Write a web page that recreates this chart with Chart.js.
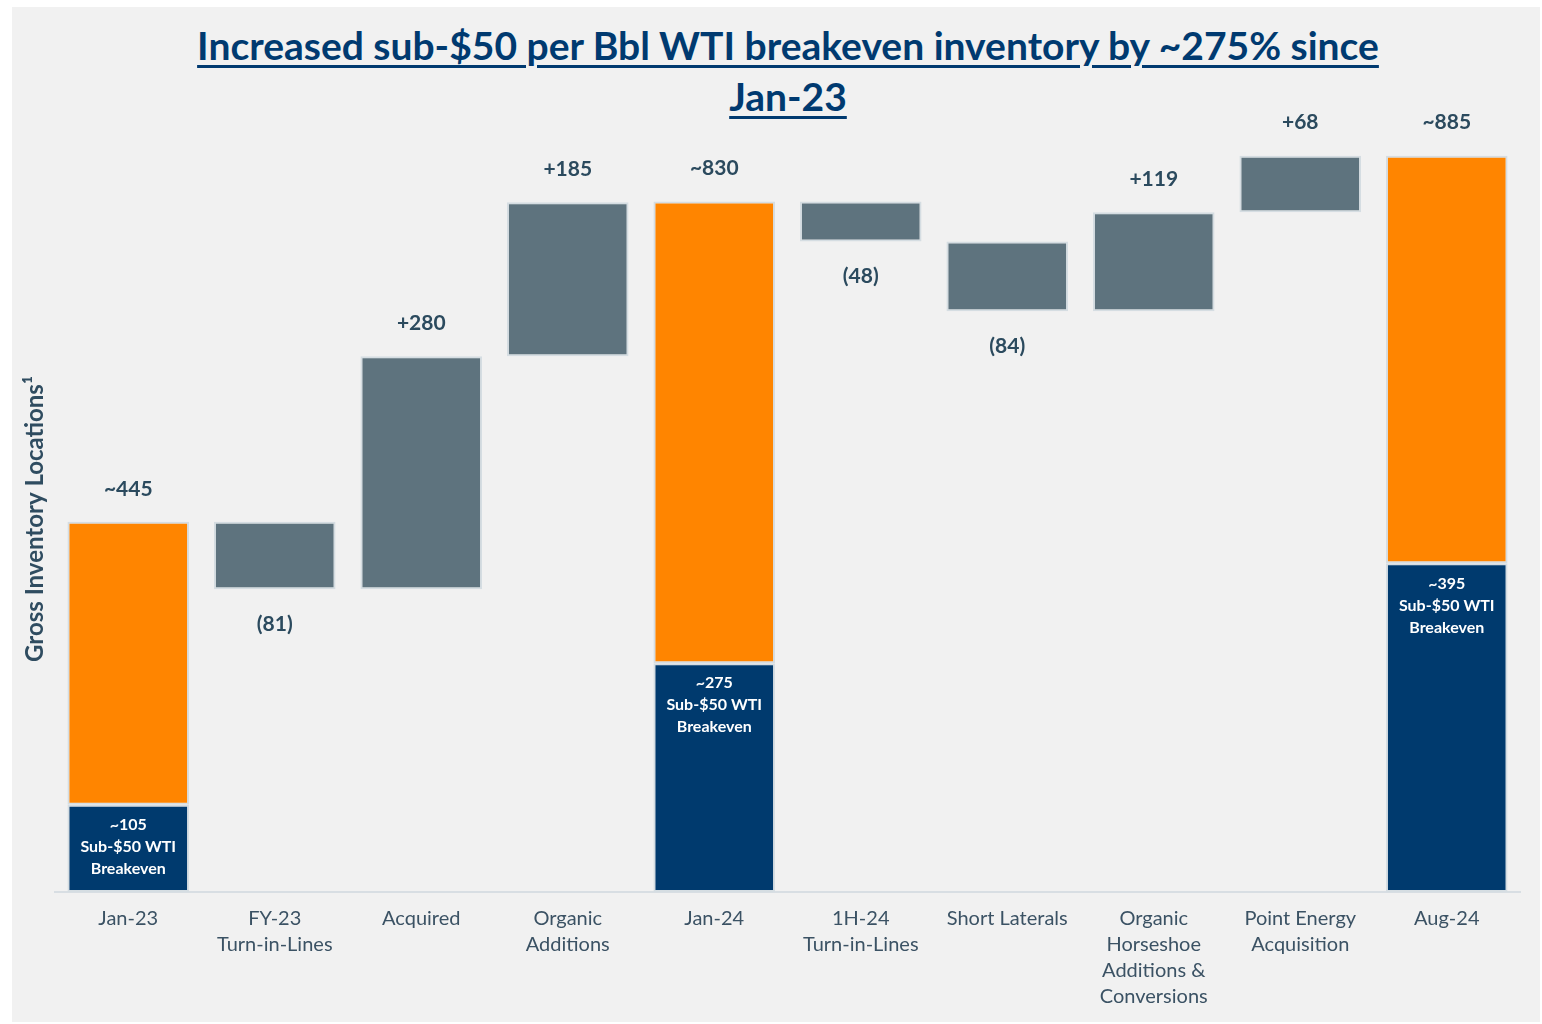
<!DOCTYPE html>
<html>
<head>
<meta charset="utf-8">
<script src="https://cdn.jsdelivr.net/npm/chart.js@4.4.1/dist/chart.umd.min.js"></script>
<style>
  html, body { margin: 0; padding: 0; background: #ffffff; }
  #panel { position: absolute; left: 12px; top: 7px; width: 1528px; height: 1015px; background: #f1f1f1; }
  #title {
    position: absolute; left: 17px; top: 20px; width: 1542px;
    text-align: center; font-family: Lato, sans-serif; font-weight: 700;
    font-size: 39px; line-height: 51px; color: #003a70;
    text-decoration: underline; text-decoration-thickness: 3px; text-underline-offset: 5px;
  }
  #wrap { position: absolute; left: 0; top: 0; width: 1542px; height: 1024px; }
</style>
</head>
<body>
<div id="panel"></div>
<div id="title">Increased sub-$50 per Bbl WTI breakeven inventory by ~275% since<br>Jan-23</div>
<div id="wrap"><canvas id="chart"></canvas></div>
<script>
/* =========================
   Data
========================= */
const categories = [
  ["Jan-23"],
  ["FY-23", "Turn-in-Lines"],
  ["Acquired"],
  ["Organic", "Additions"],
  ["Jan-24"],
  ["1H-24", "Turn-in-Lines"],
  ["Short Laterals"],
  ["Organic", "Horseshoe", "Additions &", "Conversions"],
  ["Point Energy", "Acquisition"],
  ["Aug-24"]
];
const totals  = [445, null, null, null, 830, null, null, null, null, 885];
const sub50   = [105, null, null, null, 275, null, null, null, null, 395];
const changes = [null, -81, 280, 185, null, -48, -84, 119, 68, null];

const NAVY = "#003a6e";
const ORANGE = "#ff8500";
const SLATE = "#5e737e";
const EDGE = "#d5dde2";
const LABEL = "#2b4a5e";

/* =========================
   Build floating bars
========================= */
const navyBars = [], orangeBars = [], stepBars = [];
let level = 0;
categories.forEach((c, i) => {
  if (totals[i] != null) {
    level = totals[i];
    navyBars.push([0, sub50[i]]);
    orangeBars.push([sub50[i], totals[i]]);
    stepBars.push(null);
  } else {
    const next = level + changes[i];
    stepBars.push([level, next]);
    navyBars.push(null);
    orangeBars.push(null);
    level = next;
  }
});

function fmtChange(v) {
  return v < 0 ? `(${Math.abs(v)})` : `+${v}`;
}

/* =========================
   Label plugin
========================= */
const labelPlugin = {
  id: "labels",
  afterDatasetsDraw(chart) {
    const ctx = chart.ctx;
    ctx.save();
    ctx.textAlign = "center";
    ctx.textBaseline = "middle";

    // totals above
    ctx.font = "bold 21px Lato, sans-serif";
    ctx.fillStyle = LABEL;
    chart.getDatasetMeta(1).data.forEach((el, i) => {
      if (totals[i] == null) return;
      const top = Math.min(el.y, el.base);
      ctx.fillText(`~${totals[i]}`, el.x, top - 33);
    });

    // changes above / below
    chart.getDatasetMeta(2).data.forEach((el, i) => {
      if (changes[i] == null) return;
      const top = Math.min(el.y, el.base);
      const bottom = Math.max(el.y, el.base);
      const y = changes[i] < 0 ? bottom + 35 : top - 33;
      ctx.fillText(fmtChange(changes[i]), el.x, y);
    });

    // sub-$50 inside navy bars
    ctx.font = "bold 16px Lato, sans-serif";
    ctx.fillStyle = "#ffffff";
    chart.getDatasetMeta(0).data.forEach((el, i) => {
      if (sub50[i] == null) return;
      const top = Math.min(el.y, el.base);
      ["~" + sub50[i], "Sub-$50 WTI", "Breakeven"].forEach((t, k) => {
        ctx.fillText(t, el.x, top + 20 + k * 22);
      });
    });

    // y axis title
    ctx.translate(35, 519);
    ctx.rotate(-Math.PI / 2);
    ctx.font = "bold 24px Lato, sans-serif";
    ctx.fillStyle = "#2f4c60";
    ctx.fillText("Gross Inventory Locations\u00b9", 0, 0);
    ctx.restore();
  }
};

/* =========================
   Chart
========================= */
const common = {
  grouped: false,
  borderColor: EDGE,
  borderWidth: 2,
  borderSkipped: false,
  barPercentage: 0.83,
  categoryPercentage: 1
};

new Chart(document.getElementById("chart"), {
  type: "bar",
  data: {
    labels: categories,
    datasets: [
      { ...common, label: "Sub-$50", data: navyBars, backgroundColor: NAVY },
      { ...common, label: "Other", data: orangeBars, backgroundColor: ORANGE },
      { ...common, label: "Change", data: stepBars, backgroundColor: SLATE }
    ]
  },
  options: {
    responsive: true,
    maintainAspectRatio: false,
    animation: false,
    layout: { padding: { left: 55, right: 22, top: 60, bottom: 0 } },
    plugins: {
      legend: { display: false },
      tooltip: { enabled: false }
    },
    scales: {
      x: {
        afterFit(scale) { scale.height = 132; },
        grid: { display: false },
        border: { display: true, color: "#d8dee3", width: 2 },
        ticks: {
          color: "#3b5264",
          font: { family: "Lato, sans-serif", size: 20, lineHeight: 1.3 },
          padding: 6,
          maxRotation: 0,
          autoSkip: false
        }
      },
      y: {
        display: false,
        min: 0,
        max: 1000
      }
    }
  },
  plugins: [labelPlugin]
});
</script>
</body>
</html>
